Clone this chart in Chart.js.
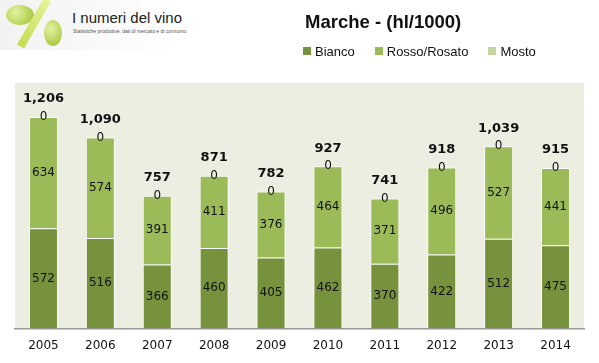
<!DOCTYPE html>
<html>
<head>
<meta charset="utf-8">
<script src="https://cdn.jsdelivr.net/npm/chart.js@4.4.1/dist/chart.umd.min.js"></script>
<style>
  body { margin: 0; background: #fff; }
  #wrap { position: relative; width: 599px; height: 363px; overflow: hidden; }
  #logo { position: absolute; left: 0; top: 0; width: 180px; height: 50px;
    background: linear-gradient(to right, #f2f2f2, #fafafa 60%, #fff); }
  .grape { position: absolute; border-radius: 50%;
    background: radial-gradient(circle at 35% 35%, #e4f2a0, #b7d45a 60%, #9fbd3e); }
  #slash { position: absolute; left: 30px; top: -4px; width: 8px; height: 54px;
    background: linear-gradient(#e6f29a, #c3dd52); transform: rotate(30deg); }
  #logoTitle { position: absolute; left: 72px; top: 9px; font: 15px "Liberation Sans Narrow", "Liberation Sans", Arial, sans-serif; color: #222; white-space: nowrap; }
  #logoSub { position: absolute; left: 73px; top: 28px; font: 5px "Liberation Sans", Arial, sans-serif; color: #555; white-space: nowrap; }
  #title { position: absolute; left: 305px; top: 11px; font: bold 18.5px "Liberation Sans", Arial, sans-serif; color: #111; white-space: nowrap; }
  #legend { position: absolute; left: 303px; top: 44px; font: 13px "Liberation Sans", Arial, sans-serif; color: #111; white-space: nowrap; }
  #legend span.item { margin-right: 20px; }
  #legend i { display: inline-block; width: 8px; height: 8px; margin-right: 4px; vertical-align: 1px; }
  canvas { position: absolute; left: 0; top: 0; }
</style>
</head>
<body>
<div id="wrap">
  <div id="logo">
    <div class="grape" style="left:6px;top:5px;width:28px;height:20px;"></div>
    <div id="slash"></div>
    <div class="grape" style="left:44px;top:20px;width:18px;height:26px;"></div>
    <div id="logoTitle">I numeri del vino</div>
    <div id="logoSub">Statistiche produttive, dati di mercato e di consumo.</div>
  </div>
  <canvas id="chart" width="599" height="363"></canvas>
  <div id="title">Marche - (hl/1000)</div>
  <div id="legend"></div>
</div>
<script>
const years = ['2005', '2006', '2007', '2008', '2009', '2010', '2011', '2012', '2013', '2014'];
const bianco = [572, 516, 366, 460, 405, 462, 370, 422, 512, 475];
const rossoRosato = [634, 574, 391, 411, 376, 464, 371, 496, 527, 441];
const mosto = [0, 0, 0, 0, 0, 0, 0, 0, 0, 0];
const totals = [1206, 1090, 757, 871, 782, 927, 741, 918, 1039, 915];

const colors = ['#77923c', '#9bbb59', '#c3d69b'];
const names = ['Bianco', 'Rosso/Rosato', 'Mosto'];

// legenda in html
document.getElementById('legend').innerHTML = names
  .map((n, i) => `<span class="item"><i style="background:${colors[i]}"></i>${n}</span>`)
  .join('');

const plotBg = {
  id: 'plotBg',
  beforeDraw(chart) {
    const { ctx, chartArea: a } = chart;
    ctx.save();
    ctx.fillStyle = '#eceee2';
    ctx.fillRect(a.left, a.top, a.right - a.left, a.bottom - a.top);
    ctx.restore();
  }
};

const valueLabels = {
  id: 'valueLabels',
  afterDatasetsDraw(chart) {
    const ctx = chart.ctx;
    ctx.save();
    ctx.textAlign = 'center';
    ctx.textBaseline = 'middle';
    ctx.fillStyle = '#111';
    chart.data.datasets.forEach((ds, di) => {
      const meta = chart.getDatasetMeta(di);
      meta.data.forEach((bar, i) => {
        const v = ds.data[i];
        ctx.font = '12px "DejaVu Sans", Verdana, sans-serif';
        const y = v === 0 ? bar.y : (bar.y + bar.base) / 2;
        ctx.fillText(String(v), bar.x, y);
      });
    });
    // totali
    const top = chart.getDatasetMeta(2);
    top.data.forEach((bar, i) => {
      ctx.font = 'bold 13px "DejaVu Sans", Verdana, sans-serif';
      ctx.fillText(totals[i].toLocaleString('en-US'), bar.x, bar.y - 18);
    });
    ctx.restore();
  }
};

new Chart(document.getElementById('chart').getContext('2d'), {
  type: 'bar',
  data: {
    labels: years,
    datasets: [bianco, rossoRosato, mosto].map((d, i) => ({
      label: names[i],
      data: d,
      backgroundColor: colors[i],
      borderColor: '#ffffff',
      borderWidth: 1,
      barPercentage: 0.51,
      categoryPercentage: 1
    }))
  },
  options: {
    responsive: false,
    animation: false,
    layout: { padding: { top: 83, left: 15, right: 15, bottom: 0 } },
    plugins: {
      legend: { display: false },
      title: { display: false },
      tooltip: { enabled: false }
    },
    scales: {
      x: {
        stacked: true,
        grid: { display: false, drawTicks: false },
        border: { display: true, color: '#999999', width: 1.5 },
        ticks: {
          color: '#111',
          padding: 10,
          font: { family: '"DejaVu Sans", Verdana, sans-serif', size: 12 }
        }
      },
      y: {
        stacked: true,
        display: false,
        min: 0,
        max: 1400
      }
    }
  },
  plugins: [plotBg, valueLabels]
});
</script>
</body>
</html>
